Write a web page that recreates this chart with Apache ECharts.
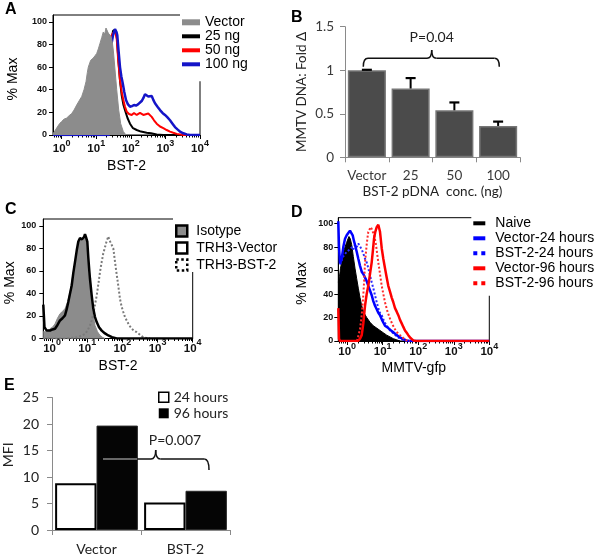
<!DOCTYPE html>
<html>
<head>
<meta charset="utf-8">
<script src="https://cdn.jsdelivr.net/npm/echarts@6/dist/echarts.min.js"></script>
<style>html,body{margin:0;padding:0;background:#fff}#c{width:600px;height:556px}</style>
</head>
<body>
<div id="c"></div>
<script>
// ---------- DATA ----------
// Panel A: flow histograms, x = log10(BST-2 intensity), y = % Max
const aVectorX = [-0.25,-0.212,-0.126,-0.062,0.002,0.068,0.146,0.213,0.291,0.357,0.435,0.502,0.580,0.646,0.704,0.742,0.771,0.840,0.915,0.964,1.013,1.060,1.109,1.158,1.204,1.245,1.282,1.311,1.349,1.384,1.427,1.464,1.493,1.543,1.592,1.650,1.707,1.783,1.861];
const aVectorY = [1,2,7,10,12,14,15,17,19,22,26.5,30,34,40,47,55,60,66,68,70,72,76,81,86,91,89,94.5,96,90,91,87,82,75,57.5,40,22,10,3,0];
const a25X = [-0.25,1.34,1.427,1.485,1.543,1.592,1.644,1.687,1.736,1.783,1.832,1.904,1.976,2.063,2.170,2.294,2.459,2.583,2.748,2.930,4.0];
const a25Y = [0,0,80,92,93,88,65,48,35,27,22,15,10,6,4.4,3,2,1.5,0.5,0,0];
const a50X = [-0.25,1.34,1.398,1.427,1.485,1.543,1.592,1.638,1.687,1.736,1.783,1.832,1.881,1.947,2.025,2.092,2.170,2.222,2.265,2.314,2.361,2.410,2.505,2.554,2.604,2.670,2.748,2.844,2.939,3.037,3.133,3.228,3.326,3.517,4.0];
const a50Y = [0,0,75,87,90,92,85,65,48.7,38,31,25,20.6,18.5,17.7,19.5,17.7,19,19.5,18,17.7,19,19,18,16,13,10,7.5,6,4.4,3,2,1,0,0];
const a100X = [-0.25,1.369,1.427,1.485,1.543,1.586,1.609,1.644,1.687,1.725,1.765,1.811,1.861,1.918,1.976,2.034,2.092,2.150,2.208,2.265,2.314,2.361,2.410,2.459,2.505,2.554,2.604,2.650,2.699,2.771,2.844,2.916,2.988,3.060,3.133,3.205,3.277,3.349,3.422,3.517,3.616,3.711,4.0];
const a100Y = [0,0,78,88,93.5,91,88,75,60,52,46,38,31,27,25,25.5,26.5,26,27,28,30,32.5,36,37,34,35,34.5,31,28,25,22,19.5,17.7,15.5,13,10,7,5,3,1.5,0.5,0,0];

// Panel B: bar chart
const bCategories = ['Vector','25','50','100'];
const bValues = [1.0,0.79,0.54,0.36];
const bErrTop = [1.005,0.91,0.63,0.41];

// Panel C
const cIsoX = [-0.25,-0.202,-0.145,-0.059,0.012,0.083,0.154,0.225,0.296,0.367,0.438,0.510,0.566,0.623,0.672,0.717,0.766,0.794,0.837,0.871,0.908,0.936,0.965,1.002,1.030,1.059,1.093,1.127,1.172,1.221,1.292,1.363,1.434,1.505];
const cIsoY = [6,7,6,8.7,10,13,18,22,24,26.5,32,41,52,62,72,80,86,89,87,89,88,90.5,88,77,65,53,40,29.5,20,11.6,6,2.7,1,0];
const cVecX = [-0.25,-0.216,-0.153,-0.059,0.012,0.083,0.154,0.225,0.296,0.367,0.416,0.461,0.510,0.558,0.603,0.652,0.700,0.746,0.794,0.814,0.851,0.871,0.908,0.936,0.965,1.002,1.030,1.059,1.078,1.127,1.172,1.221,1.269,1.335,1.411,1.505,1.599,1.704,1.838,4.0];
const cVecY = [30,10,7,7,8,8.7,12,16,18,20.5,26,32.4,40,47,58,68,78,86,89,90.5,88,87.5,90,92.6,90,86,72,60,53,38,26.5,19,14.6,10,7,4.5,2.7,1.2,0,0];
const cBstX = [-0.25,0.416,0.700,0.842,0.936,1.007,1.078,1.127,1.172,1.221,1.269,1.315,1.363,1.411,1.457,1.497,1.534,1.571,1.599,1.633,1.676,1.710,1.741,1.790,1.824,1.855,1.895,1.932,1.980,2.026,2.074,2.122,2.188,2.265,2.330,2.407,2.472,2.549,2.615,2.691,2.785];
const cBstY = [0,0,1,2.5,4,7,11.6,16,22,30,38,48,59,68,75.6,80,84.5,88,90.5,87,84.5,82,80,68,60,53,44,35,28,23.5,19,16,12,8.7,7,5.6,4,2,1,0.5,0];

// Panel D
const dNaiveX = [-0.25,-0.216,-0.188,-0.154,-0.109,-0.061,-0.014,0.023,0.051,0.088,0.127,0.172,0.220,0.268,0.313,0.361,0.409,0.473,0.549,0.642,0.735,0.831,0.924,1.017,1.112,1.205,1.298,1.394,1.487];
const dNaiveY = [50,55,62,67,75,80,84,87,89,87,82,72,62,53,45,37,30,24,20,16,13,11,9,7,5,3.5,2,1,0];
const dV24X = [-0.25,-0.230,-0.202,-0.154,-0.109,-0.061,-0.014,0.031,0.079,0.107,0.155,0.192,0.220,0.268,0.313,0.361,0.409,0.454,0.502,0.549,0.594,0.642,0.690,0.735,0.783,0.831,0.876,0.924,0.994,1.064,1.157,1.233,1.298,1.394,1.487,1.580,1.675,1.768,4.0];
const dV24Y = [102,80,66,70,80,87,90,92,94,93,90,85,82,76,70,64,59,57,56,51,47,43,39,34,30,27,24,22,17,13,11,9,7.5,5,3,1.5,0.5,0,0];
const dB24X = [-0.202,-0.109,-0.014,0.079,0.136,0.172,0.220,0.268,0.313,0.361,0.409,0.454,0.502,0.549,0.594,0.642,0.690,0.735,0.783,0.831,0.876,0.924,0.972,1.036,1.112,1.205,1.298,1.394,1.487,1.580,1.675];
const dB24Y = [65,72,76,78,80,78,82,80,83,82,78,74.5,70,67,62,56,50,45,39,33,28,24,22,17,13,9,6.5,4,2,1,0];
const dV96X = [-0.25,-0.230,-0.202,0.304,0.361,0.409,0.454,0.502,0.549,0.594,0.642,0.690,0.727,0.755,0.791,0.831,0.853,0.876,0.901,0.924,0.972,1.017,1.064,1.112,1.157,1.205,1.253,1.298,1.346,1.394,1.439,1.487,1.534,1.580,1.627,1.675,1.720,1.782,1.861,1.937,4.0];
const dV96Y = [28,2,0,0,2,5,15,30,40,47,57,67,78,87,93,97,96,99,98,93,79,70,62,54,47,42,37,33,28,25,22,18,15,12,9,7,5,2.5,0.5,0,0];
const dB96X = [0.276,0.361,0.409,0.454,0.479,0.502,0.549,0.572,0.594,0.628,0.662,0.699,0.735,0.775,0.811,0.845,0.876,0.924,0.972,1.017,1.064,1.135,1.205,1.276,1.346,1.416,1.487,1.580,1.675,1.768];
const dB96Y = [0,10,22,39,52,67,82,88,93,95,97,95,96,88,82,74,67,57,47,40,33,25,19,14,10,7,5,2.5,0.5,0];

// Panel E
const eCategories = ['Vector','BST-2'];
const e24 = [8.8,5.2];
const e96 = [19.7,7.4];

// Tick values
const decadeTicks = [0, 1, 2, 3, 4];          // 10^0 ... 10^4
const pctTicks = [0, 20, 40, 60, 80, 100];

// ---------- CHART ----------
const F = 'Liberation Sans, Arial, sans-serif';
const XL = 'Lato, sans-serif';
const XMIN = -0.25, XMAX = 4;
const zip = (xs, ys) => xs.map((x, i) => [x, ys[i]]);
// log-spaced minor tick positions (in decade units)
const minorLogTicks = [];
for (let n = -1; n < 4; n++) for (let k = 2; k <= 9; k++) {
  const v = n + Math.log10(k);
  if (v >= XMIN && v <= XMAX) minorLogTicks.push(v);
}

function logAxis(gi, margin, name, nameGap) {
  return {
    gridIndex: gi, type: 'value', min: XMIN, max: XMAX,
    axisLine: {show: true, onZero: false, lineStyle: {color: '#000', width: 1}},
    axisTick: {show: true, length: 4, customValues: decadeTicks, lineStyle: {color: '#000'}},
    splitLine: {show: false},
    axisLabel: {
      margin: margin,
      customValues: decadeTicks,
      formatter: v => '{b|10}{s|' + Math.round(v) + '}',
      rich: {
        b: {fontSize: 11.5, fontWeight: 'bold', fontFamily: F, color: '#111', lineHeight: 16, verticalAlign: 'bottom'},
        s: {fontSize: 9, fontWeight: 'bold', fontFamily: F, color: '#111', lineHeight: 4, verticalAlign: 'top'}
      }
    },
    name: name, nameLocation: 'middle', nameGap: nameGap,
    nameTextStyle: {fontFamily: F, fontSize: 14, color: '#000'}
  };
}
function minorAxis(gi) {
  return {
    gridIndex: gi, type: 'value', min: XMIN, max: XMAX, position: 'bottom',
    axisLine: {show: false, onZero: false},
    axisTick: {show: true, length: 2.5, customValues: minorLogTicks, lineStyle: {color: '#000'}},
    axisLabel: {show: false},
    splitLine: {show: false}
  };
}
function pctAxis(gi, max, margin, nameGap) {
  return {
    gridIndex: gi, type: 'value', min: 0, max: max, interval: 20,
    axisLine: {show: true, onZero: false, lineStyle: {color: '#000'}},
    axisTick: {show: true, length: 4, customValues: pctTicks, lineStyle: {color: '#000'}},
    splitLine: {show: false},
    axisLabel: {fontFamily: F, fontSize: 9, fontWeight: 'bold', color: '#111', margin: margin, customValues: pctTicks},
    name: '% Max', nameLocation: 'middle', nameGap: nameGap,
    nameTextStyle: {fontFamily: F, fontSize: 14, color: '#000', padding: [0, 0, 0, -8]}
  };
}
function lineSeries(name, xi, xs, ys, color, width, type, z) {
  return {
    name: name, type: 'line', xAxisIndex: xi, yAxisIndex: xi, data: zip(xs, ys),
    showSymbol: false, symbol: 'none', smooth: false, z: z,
    itemStyle: {color: color},
    lineStyle: {color: color, width: width, type: type || 'solid'}
  };
}
function areaSeries(name, xi, xs, ys, color, z) {
  return {
    name: name, type: 'line', xAxisIndex: xi, yAxisIndex: xi, data: zip(xs, ys),
    showSymbol: false, symbol: 'none', z: z,
    itemStyle: {color: color},
    lineStyle: {color: color, width: 1},
    areaStyle: {color: color, opacity: 1}
  };
}
// curly bracket annotation made of lines and quadratic curves
function bracket(x1, x2, y, xm, yNotch, yDrop, r, z) {
  const st = {stroke: '#111', lineWidth: 1.5, fill: 'none'};
  return {type: 'group', z: z, children: [
    {type: 'bezierCurve', shape: {x1: x1, y1: yDrop, cpx1: x1, cpy1: y, x2: x1 + r, y2: y}, style: st},
    {type: 'line', shape: {x1: x1 + r, y1: y, x2: xm - r, y2: y}, style: st},
    {type: 'bezierCurve', shape: {x1: xm - r, y1: y, cpx1: xm, cpy1: y, x2: xm, y2: yNotch}, style: st},
    {type: 'bezierCurve', shape: {x1: xm, y1: yNotch, cpx1: xm, cpy1: y, x2: xm + r, y2: y}, style: st},
    {type: 'line', shape: {x1: xm + r, y1: y, x2: x2 - r, y2: y}, style: st},
    {type: 'bezierCurve', shape: {x1: x2 - r, y1: y, cpx1: x2, cpy1: y, x2: x2, y2: yDrop}, style: st}
  ]};
}

const frame = {show: true, borderColor: '#000', borderWidth: 1, backgroundColor: 'transparent'};
const chart = echarts.init(document.getElementById('c'), null, {renderer: 'canvas'});

const option = {
  animation: false,
  backgroundColor: '#fff',
  grid: [
    Object.assign({left: 53, top: 15, width: 147, height: 120}, frame),
    {left: 345, top: 26.7, width: 175, height: 130.6},
    Object.assign({left: 43.3, top: 219, width: 149.4, height: 119.5}, frame),
    Object.assign({left: 338.3, top: 217.7, width: 151, height: 123.3}, frame),
    {left: 51.7, top: 397.5, width: 178.3, height: 132.5}
  ],
  xAxis: [
    logAxis(0, 4, 'BST-2', 24),
    {
      gridIndex: 1, type: 'category', data: bCategories,
      axisLine: {lineStyle: {color: '#8a8a8a'}},
      axisTick: {show: true, length: 5, interval: 0, lineStyle: {color: '#8a8a8a'}},
      axisLabel: {fontFamily: XL, fontSize: 13.5, color: '#3a3a3a', margin: 11, interval: 0},
      name: 'BST-2 pDNA  conc. (ng)', nameLocation: 'middle', nameGap: 27,
      nameTextStyle: {fontFamily: XL, fontSize: 13.5, color: '#222'}
    },
    logAxis(2, 0, 'BST-2', 21),
    logAxis(3, 1, 'MMTV-gfp', 20),
    {
      gridIndex: 4, type: 'category', data: eCategories,
      axisLine: {lineStyle: {color: '#8a8a8a'}},
      axisTick: {show: true, length: 5, interval: 0, lineStyle: {color: '#8a8a8a'}},
      axisLabel: {fontFamily: XL, fontSize: 14, color: '#222', margin: 12, interval: 0}
    },
    minorAxis(0),
    minorAxis(2),
    minorAxis(3)
  ],
  yAxis: [
    pctAxis(0, 106, 6, 33),
    {
      gridIndex: 1, type: 'value', min: 0, max: 1.5, interval: 0.5,
      axisLine: {show: true, onZero: false, lineStyle: {color: '#8a8a8a'}},
      axisTick: {show: true, length: 5, lineStyle: {color: '#8a8a8a'}},
      splitLine: {show: false},
      axisLabel: {fontFamily: XL, fontSize: 13.5, color: '#3a3a3a', margin: 11},
      name: 'MMTV DNA: Fold \u0394', nameLocation: 'middle', nameGap: 36,
      nameTextStyle: {fontFamily: XL, fontSize: 13.5, color: '#222'}
    },
    pctAxis(2, 106, 7, 26),
    pctAxis(3, 105, 5, 29),
    {
      gridIndex: 4, type: 'value', min: 0, max: 25, interval: 5,
      axisLine: {show: true, onZero: false, lineStyle: {color: '#8a8a8a'}},
      axisTick: {show: true, length: 5, lineStyle: {color: '#8a8a8a'}},
      splitLine: {show: false},
      axisLabel: {fontFamily: XL, fontSize: 14, color: '#222', margin: 13},
      name: 'MFI', nameLocation: 'middle', nameGap: 37,
      nameTextStyle: {fontFamily: XL, fontSize: 14, color: '#222', padding: [0, 0, 0, 18]}
    }
  ],
  legend: [
    {
      orient: 'vertical', left: 180, top: 7.3, padding: [8, 6, 10, 2], itemGap: 0,
      itemWidth: 18, itemHeight: 8, backgroundColor: '#fff', selectedMode: false, z: 10,
      textStyle: {fontFamily: F, fontSize: 14, color: '#000', lineHeight: 14},
      data: [
        {name: 'Vector', icon: 'path://M0,0H18V6H0Z', itemStyle: {color: '#8c8c8c', borderWidth: 0}},
        {name: '25 ng', icon: 'path://M0,0H18V4H0Z', itemStyle: {color: '#000', borderWidth: 0}},
        {name: '50 ng', icon: 'path://M0,0H18V4H0Z', itemStyle: {color: '#ff0000', borderWidth: 0}},
        {name: '100 ng', icon: 'path://M0,0H18V4H0Z', itemStyle: {color: '#1414c8', borderWidth: 0}}
      ]
    },
    {
      orient: 'vertical', left: 173, top: 218, padding: [6, 6, 0, 2], itemGap: 3,
      itemWidth: 11, itemHeight: 11, backgroundColor: '#fff', selectedMode: false, z: 10,
      textStyle: {fontFamily: F, fontSize: 14, color: '#000', lineHeight: 14, padding: [0, 0, 0, 4]},
      data: [
        {name: 'Isotype', icon: 'rect', itemStyle: {color: '#8c8c8c', borderColor: '#000', borderWidth: 2.5}},
        {name: 'TRH3-Vector', icon: 'rect', itemStyle: {color: '#fff', borderColor: '#000', borderWidth: 2.5}},
        {name: 'TRH3-BST-2', icon: 'rect', itemStyle: {color: '#fff', borderColor: '#000', borderWidth: 2.5, borderType: 'dotted'}}
      ]
    },
    {
      orient: 'vertical', left: 471.3, top: 210.8, padding: [5, 4, 5, 2], itemGap: 0,
      itemWidth: 12, itemHeight: 8, backgroundColor: '#fff', selectedMode: false, z: 10,
      textStyle: {fontFamily: F, fontSize: 14, color: '#000', lineHeight: 15, padding: [0, 0, 0, 5]},
      data: [
        {name: 'Naive', icon: 'path://M0,0H12V4H0Z', itemStyle: {color: '#000', borderWidth: 0}},
        {name: 'Vector-24 hours', icon: 'path://M0,0H12V4H0Z', itemStyle: {color: '#0000ff', borderWidth: 0}},
        {name: 'BST-2-24 hours', icon: 'path://M0,0H4V4H0Z M8,0H12V4H8Z', itemStyle: {color: '#0000ff', borderWidth: 0}},
        {name: 'Vector-96 hours', icon: 'path://M0,0H12V4H0Z', itemStyle: {color: '#ff0000', borderWidth: 0}},
        {name: 'BST-2-96 hours', icon: 'path://M0,0H4V4H0Z M8,0H12V4H8Z', itemStyle: {color: '#ff0000', borderWidth: 0}}
      ]
    },
    {
      orient: 'vertical', left: 158, top: 389.3, padding: 0, itemGap: 0,
      itemWidth: 10, itemHeight: 10, selectedMode: false,
      textStyle: {fontFamily: XL, fontSize: 14, color: '#222', lineHeight: 16},
      data: [
        {name: '24 hours', icon: 'rect', itemStyle: {color: '#fff', borderColor: '#000', borderWidth: 1.5}},
        {name: '96 hours', icon: 'rect', itemStyle: {color: '#000', borderColor: '#000', borderWidth: 0}}
      ]
    }
  ],
  series: [
    // A
    lineSeries('25 ng', 0, a25X, a25Y, '#000', 2, 'solid', 2),
    lineSeries('50 ng', 0, a50X, a50Y, '#ff0000', 2, 'solid', 2),
    lineSeries('100 ng', 0, a100X, a100Y, '#1414c8', 2.5, 'solid', 2),
    areaSeries('Vector', 0, aVectorX, aVectorY, '#8c8c8c', 3),
    // B
    {
      name: 'MMTV DNA fold', type: 'bar', xAxisIndex: 1, yAxisIndex: 1, data: bValues,
      barCategoryGap: '13%',
      itemStyle: {color: '#4b4b4b', borderColor: '#767676', borderWidth: 1.5}
    },
    {
      name: 'B error', type: 'custom', xAxisIndex: 1, yAxisIndex: 1, z: 5,
      data: bValues.map((v, i) => [i, v, bErrTop[i]]),
      encode: {x: 0, y: [1, 2]},
      renderItem: function (params, api) {
        const i = api.value(0);
        const p0 = api.coord([i, api.value(1)]);
        const p1 = api.coord([i, api.value(2)]);
        return {type: 'group', children: [
          {type: 'line', shape: {x1: p0[0], y1: p0[1], x2: p1[0], y2: p1[1]}, style: {stroke: '#000', lineWidth: 2}},
          {type: 'line', shape: {x1: p1[0] - 5, y1: p1[1], x2: p1[0] + 5, y2: p1[1]}, style: {stroke: '#000', lineWidth: 2.2}}
        ]};
      }
    },
    // C
    areaSeries('Isotype', 2, cIsoX, cIsoY, '#8c8c8c', 2),
    lineSeries('TRH3-BST-2', 2, cBstX, cBstY, '#7a7a7a', 2, 'dotted', 3),
    lineSeries('TRH3-Vector', 2, cVecX, cVecY, '#000', 2.5, 'solid', 4),
    // D
    areaSeries('Naive', 3, dNaiveX, dNaiveY, '#000', 2),
    lineSeries('BST-2-24 hours', 3, dB24X, dB24Y, '#2a2aff', 2, 'dotted', 3),
    lineSeries('Vector-24 hours', 3, dV24X, dV24Y, '#0000ff', 2.5, 'solid', 3),
    lineSeries('BST-2-96 hours', 3, dB96X, dB96Y, '#ff2a2a', 2, 'dotted', 4),
    lineSeries('Vector-96 hours', 3, dV96X, dV96Y, '#ff0000', 2.5, 'solid', 4),
    // E
    {
      name: '24 hours', type: 'bar', xAxisIndex: 4, yAxisIndex: 4, data: e24,
      barCategoryGap: '7%', barGap: '0%',
      itemStyle: {color: '#fff', borderColor: '#000', borderWidth: 2}
    },
    {
      name: '96 hours', type: 'bar', xAxisIndex: 4, yAxisIndex: 4, data: e96,
      barCategoryGap: '7%', barGap: '0%',
      itemStyle: {color: '#050505', borderColor: '#2a2a2a', borderWidth: 1}
    }
  ],
  graphic: [
    {type: 'text', left: 5, top: 2, style: {text: 'A', font: 'bold 16px ' + F, fill: '#000'}},
    {type: 'text', left: 291, top: 10, style: {text: 'B', font: 'bold 16px ' + F, fill: '#000'}},
    {type: 'text', left: 5, top: 202, style: {text: 'C', font: 'bold 16px ' + F, fill: '#000'}},
    {type: 'text', left: 291, top: 205, style: {text: 'D', font: 'bold 16px ' + F, fill: '#000'}},
    {type: 'text', left: 4, top: 378, style: {text: 'E', font: 'bold 16px ' + F, fill: '#000'}},
    {type: 'text', x: 431.7, y: 37.3, style: {text: 'P=0.04', font: '14px ' + XL, fill: '#222', align: 'center', verticalAlign: 'middle'}},
    bracket(363.3, 499.3, 58.3, 431.7, 50, 66.7, 4.7, 10),
    {type: 'text', x: 175, y: 440.7, z: 20, style: {text: 'P=0.007', font: '14px ' + XL, fill: '#222', align: 'center', verticalAlign: 'middle'}},
    bracket(105, 209, 459, 155.7, 450, 470, 4.7, 20),
    {type: 'line', z: 21, shape: {x1: 103, y1: 459, x2: 137, y2: 459}, style: {stroke: '#8a8a8a', lineWidth: 1.5}}
  ]
};
chart.setOption(option);
</script>
</body>
</html>
